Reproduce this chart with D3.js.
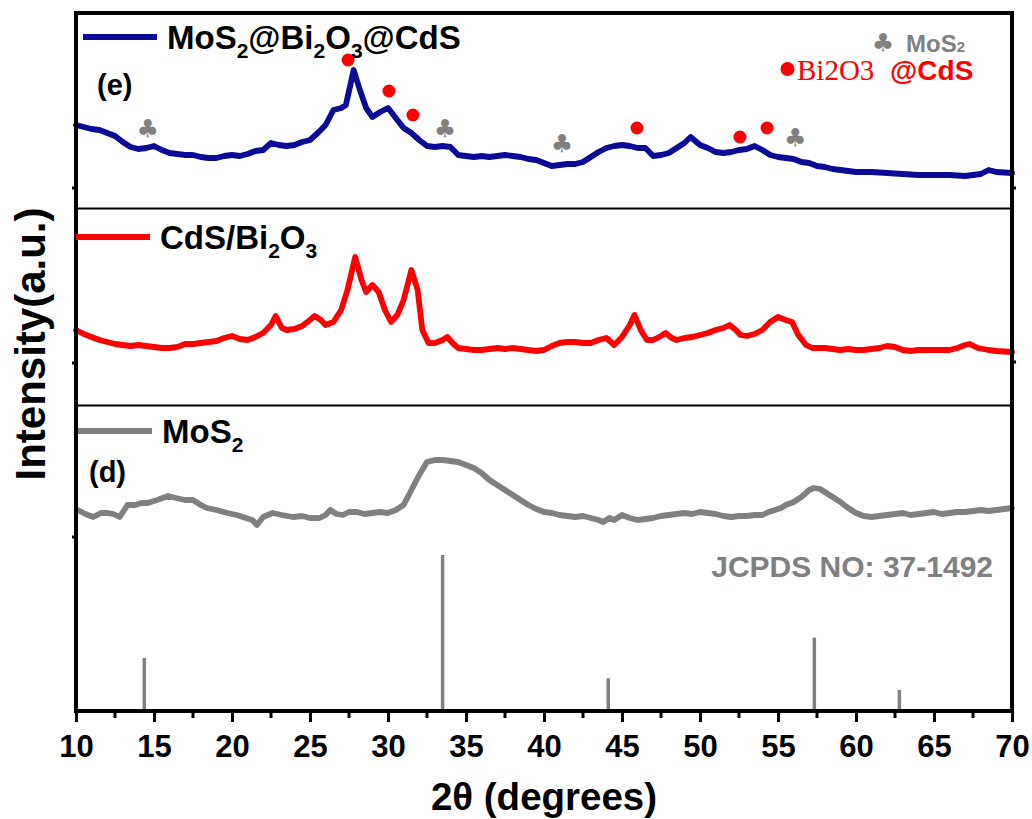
<!DOCTYPE html>
<html>
<head>
<meta charset="utf-8">
<script src="https://cdn.jsdelivr.net/npm/d3@7/dist/d3.min.js"></script>
<style>
  html, body { margin: 0; padding: 0; background: #fff; }
  svg { display: block; }
  text { font-family: "Liberation Sans", Arial, Helvetica, sans-serif; font-weight: bold; }
</style>
</head>
<body>
<svg id="chart" width="1032" height="819"></svg>
<script>
// ---- XRD patterns (2θ in degrees, intensity in a.u. per panel) ----
const blueTheta = [10,10.5,11,11.5,12,12.5,13,13.5,14,14.5,15,15.5,16,16.5,17,17.5,18,18.5,19,19.5,20,20.5,21,21.5,22,22.5,23,23.5,24,24.5,25,25.5,26,26.5,27,27.3,27.8,28.2,28.6,29,29.5,30,30.5,31,31.5,32,32.5,33,33.5,34,34.5,35,35.5,36,36.5,37,37.5,38,38.5,39,39.5,40,40.5,41,41.5,42,42.5,43,43.5,44,44.5,45,45.5,46,46.5,47,47.5,48,48.5,49,49.4,50,50.5,51,51.5,52,52.5,53,53.5,54,54.5,55,55.5,56,56.5,57,57.5,58,58.5,59,60,61,62,63,64,65,66,67,68,68.5,69,70];
const blueIntensity = [84,82,80,79,76,73,67,62,60,61,63,59,56,55,54,54,52,51,51,53,54,53,55,58,59,66,64,63,64,67,69,76,84,99,101,104,139,119,101,92,97,101,91,81,76,69,63,62,63,62,54,53,52,53,52,53,54,53,52,50,49,46,43,44,45,45,47,52,57,61,63,64,63,61,61,53,54,56,61,66,72,64,61,57,56,57,59,60,63,59,54,52,51,50,47,46,43,42,40,39,37,37,36,35,34,34,34,33,35,39,37,36];

const redTheta = [10,10.5,11,11.5,12,12.5,13,13.5,14,14.5,15,15.5,16,16.5,17,17.5,18,18.5,19,19.5,20,20.5,21,21.5,22,22.5,22.8,23.2,23.5,24,24.5,25,25.3,25.7,26,26.5,27,27.4,27.9,28.3,28.6,29,29.4,29.8,30.2,30.6,31,31.5,31.9,32.2,32.6,33,33.5,33.8,34.2,34.5,35,35.5,36,36.5,37,37.5,38,38.5,39,39.5,40,40.5,41,41.5,42,42.5,43,43.5,44,44.5,45,45.5,45.8,46.2,46.6,47,47.5,47.8,48.2,48.5,49,49.5,50,50.5,51,51.5,51.9,52.3,52.6,53,53.5,54,54.5,55,55.5,55.9,56.3,56.8,57.2,58,58.5,59,59.5,60,60.5,61,61.5,62,62.5,63,63.5,64,65,66,66.5,67,67.3,67.8,68.5,69,70];
const redIntensity = [76,72,69,66,64,62,61,60,61,60,59,58,58,59,62,62,63,64,65,68,70,67,66,69,73,81,90,78,76,77,80,86,90,86,81,84,96,116,149,126,114,121,114,96,84,91,106,136,116,76,63,63,66,69,62,58,57,56,56,57,58,57,58,57,56,55,56,60,63,64,64,63,63,66,68,61,69,81,91,76,66,66,70,73,68,66,68,69,71,73,76,78,81,76,71,70,72,76,84,89,86,84,71,61,58,58,57,56,57,56,56,57,58,60,59,56,55,56,56,56,58,61,62,58,56,55,54];

const grayTheta = [10.1,10.6,11.1,11.6,12,12.4,12.8,13.3,13.8,14.2,14.6,15.2,15.9,16.4,17,17.5,18,18.4,19,19.7,20.3,20.9,21.3,21.6,22,22.6,23.2,23.9,24.5,25,25.6,26,26.3,26.7,27.1,27.5,28,28.5,29,29.5,30,30.5,31,31.5,32,32.5,33,33.5,34,34.5,35,35.5,36,36.5,37,37.5,38,38.5,39,39.5,40,40.5,41,41.5,42,42.5,43,43.5,43.8,44.2,44.5,45,45.5,46,46.5,47,47.5,48,48.5,49,49.5,50,50.5,51,51.5,52,52.5,53,53.5,54,54.4,54.8,55.2,55.5,56,56.5,57,57.3,57.7,58,58.5,59,59.5,60,60.5,61,61.5,62,62.5,63,63.5,64,64.5,65,65.5,66,66.5,67,67.5,68,68.5,69,69.5,70];
const grayIntensity = [27,23,20,24,24,23,20,32,32,34,34,37,41,39,37,37,32,29,27,24,22,19,17,12,20,24,22,20,21,19,19,22,27,23,22,25,25,23,24,25,24,27,32,47,62,75,77,77,76,75,72,69,64,57,52,47,42,37,32,28,25,24,22,21,20,21,19,17,15,19,17,22,19,17,18,19,21,22,23,24,23,25,24,23,21,20,21,21,22,22,25,27,29,32,35,40,47,49,48,45,40,35,29,24,21,20,21,22,23,24,22,23,24,25,23,24,25,25,26,27,26,27,28,29];

// JCPDS 37-1492 (MoS2) reference lines: 2θ and relative intensity (%)
const refTheta = [14.38, 33.5, 44.12, 57.33, 62.78];
const refIntensity = [34, 100, 21, 47, 13.5];

// Phase markers on the composite pattern
const bi2o3Theta = [27.44, 30.06, 31.6, 45.96, 52.56, 54.3];
const bi2o3Height = [149, 118, 94, 81, 72, 81];
const mos2Theta = [14.6, 33.65, 41.15, 56.1];
const mos2Height = [81, 81, 66, 72];

const xTicks = [10,15,20,25,30,35,40,45,50,55,60,65,70];

// ---- layout ----
const svg = d3.select("#chart");
const L = 76, R = 1012, T = 13, B = 711;
const sep1 = 208.5, sep2 = 405.5;

const x = d3.scaleLinear().domain([10, 70]).range([L, R]);
const yE = d3.scaleLinear().domain([0, 200]).range([209, 9]);
const yC = d3.scaleLinear().domain([0, 200]).range([406, 206]);
const yM = d3.scaleLinear().domain([0, 200]).range([537, 337]);
const yRef = d3.scaleLinear().domain([0, 100]).range([B, 555]);

const blue = "#0b0b98", red = "#ff0000", gray = "#808080";

function drawPattern(thetas, vals, yScale, color) {
  const pts = thetas.map((t, i) => [t, vals[i]]);
  const line = d3.line().x(d => x(d[0])).y(d => yScale(d[1])).curve(d3.curveLinear);
  svg.append("path").datum(pts)
    .attr("d", line)
    .attr("fill", "none")
    .attr("stroke", color)
    .attr("stroke-width", 5.8)
    .attr("stroke-linejoin", "round")
    .attr("stroke-linecap", "round");
}

// panel separators
[sep1, sep2].forEach(yy => {
  svg.append("line").attr("x1", L).attr("x2", R).attr("y1", yy).attr("y2", yy)
    .attr("stroke", "#000").attr("stroke-width", 2);
});

// reference sticks
svg.append("g").selectAll("line").data(refTheta.map((t, i) => [t, refIntensity[i]]))
  .join("line")
  .attr("x1", d => x(d[0])).attr("x2", d => x(d[0]))
  .attr("y1", yRef(0)).attr("y2", d => yRef(d[1]))
  .attr("stroke", gray).attr("stroke-width", 3.5);

drawPattern(grayTheta, grayIntensity, yM, gray);
drawPattern(redTheta, redIntensity, yC, red);
drawPattern(blueTheta, blueIntensity, yE, blue);

// phase markers
svg.append("g").selectAll("circle").data(bi2o3Theta.map((t, i) => [t, bi2o3Height[i]]))
  .join("circle")
  .attr("cx", d => x(d[0])).attr("cy", d => yE(d[1]))
  .attr("r", 6.5).attr("fill", red);

svg.append("g").selectAll("text").data(mos2Theta.map((t, i) => [t, mos2Height[i]]))
  .join("text")
  .attr("x", d => x(d[0])).attr("y", d => yE(d[1]) + 9)
  .attr("text-anchor", "middle")
  .style("font-family", "DejaVu Sans, sans-serif")
  .style("font-weight", "normal")
  .attr("font-size", 25)
  .attr("fill", gray)
  .text("♣");

// frame
svg.append("rect").attr("x", L).attr("y", T).attr("width", R - L).attr("height", B - T)
  .attr("fill", "none").attr("stroke", "#000").attr("stroke-width", 4);

// small panel ticks on the side axes
[188, 363, 537].forEach(yy => {
  svg.append("line").attr("x1", L - 4).attr("x2", L).attr("y1", yy).attr("y2", yy)
    .attr("stroke", "#000").attr("stroke-width", 3);
});
[188, 362].forEach(yy => {
  svg.append("line").attr("x1", R).attr("x2", R + 4).attr("y1", yy).attr("y2", yy)
    .attr("stroke", "#000").attr("stroke-width", 3);
});

// x axis
const xAxis = d3.axisBottom(x).tickValues(xTicks).tickSize(11).tickPadding(13).tickFormat(d3.format("d"));
const gx = svg.append("g").attr("transform", `translate(0,${B})`).call(xAxis);
gx.select(".domain").remove();
gx.selectAll(".tick line").attr("stroke", "#000").attr("stroke-width", 3);
gx.selectAll(".tick text").attr("font-size", 31).attr("fill", "#000")
  .style("font-family", "Liberation Sans, Arial, sans-serif").style("font-weight", "bold");
const minor = d3.range(12.5, 70, 5);
svg.append("g").selectAll("line").data(minor).join("line")
  .attr("x1", d => x(d)).attr("x2", d => x(d))
  .attr("y1", B).attr("y2", B + 7)
  .attr("stroke", "#000").attr("stroke-width", 3);

// axis titles
svg.append("text").attr("x", 544).attr("y", 810).attr("text-anchor", "middle")
  .attr("font-size", 38.5).attr("fill", "#000")
  .text("2θ (degrees)");

svg.append("text").attr("transform", "translate(45,344) rotate(-90)")
  .attr("text-anchor", "middle").attr("font-size", 42).attr("fill", "#000")
  .text("Intensity(a.u.)");

// legends: line sample followed by a label with subscripted digits
function legend(x1, x2, yy, color, tx, parts) {
  svg.append("line").attr("x1", x1).attr("x2", x2).attr("y1", yy).attr("y2", yy)
    .attr("stroke", color).attr("stroke-width", 6);
  const t = svg.append("text").attr("x", tx).attr("y", yy + 12).attr("font-size", 33).attr("fill", "#000");
  let shift = 0;
  parts.forEach(p => {
    const ts = t.append("tspan").text(p.s);
    if (p.sub) {
      ts.attr("font-size", 21).attr("dy", 9 - shift);
      shift = 9;
    } else {
      ts.attr("dy", -shift);
      shift = 0;
    }
  });
}
legend(83, 157, 37, blue, 167, [{s:"MoS"},{s:"2",sub:true},{s:"@Bi"},{s:"2",sub:true},{s:"O"},{s:"3",sub:true},{s:"@CdS"}]);
legend(76, 150, 237, red, 160, [{s:"CdS/Bi"},{s:"2",sub:true},{s:"O"},{s:"3",sub:true}]);
legend(78, 152, 431, gray, 162, [{s:"MoS"},{s:"2",sub:true}]);

svg.append("text").attr("x", 97).attr("y", 95).attr("font-size", 29).attr("fill", "#000").text("(e)");
svg.append("text").attr("x", 89).attr("y", 482).attr("font-size", 29).attr("fill", "#000").text("(d)");

// marker key
svg.append("text").attr("x", 883).attr("y", 51).attr("text-anchor", "middle")
  .style("font-family", "DejaVu Sans, sans-serif").style("font-weight", "normal")
  .attr("font-size", 25).attr("fill", gray).text("♣");
const mk = svg.append("text").attr("x", 906).attr("y", 52).attr("font-size", 24).attr("fill", gray);
mk.append("tspan").text("MoS");
mk.append("tspan").attr("font-size", 15).text("2");

svg.append("circle").attr("cx", 787.5).attr("cy", 69).attr("r", 7).attr("fill", red);
const bk = svg.append("text").attr("x", 797).attr("y", 80).attr("fill", red);
bk.append("tspan").style("font-family", "Liberation Serif, Times New Roman, serif")
  .style("font-weight", "normal").attr("font-size", 29).text("Bi2O3");
bk.append("tspan").attr("x", 890).attr("font-size", 28).text("@CdS");

svg.append("text").attr("x", 993).attr("y", 577).attr("text-anchor", "end")
  .attr("font-size", 30).attr("fill", gray).text("JCPDS NO: 37-1492");
</script>
</body>
</html>
